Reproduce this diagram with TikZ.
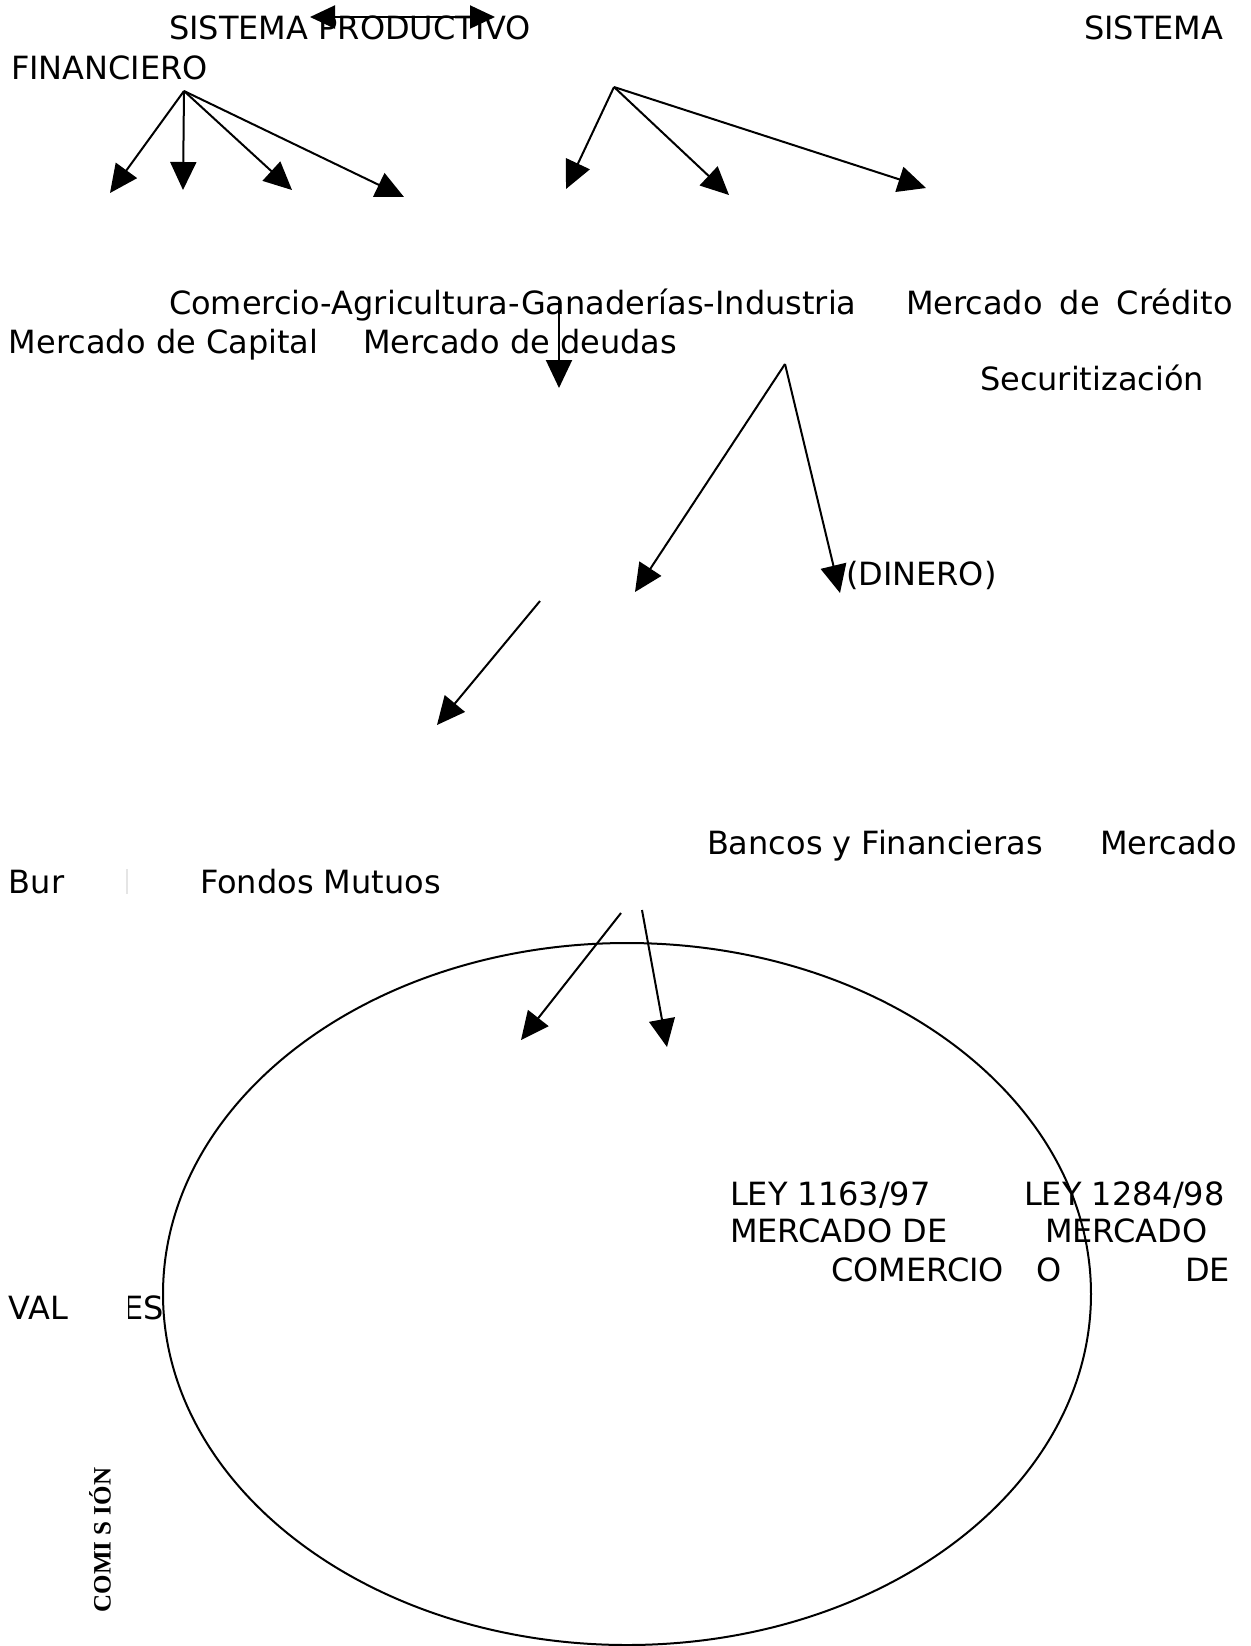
\documentclass[tikz,border=0pt]{standalone}
\usepackage{fontspec}
\setmainfont{DejaVu Sans}
\newfontfamily\comisionfont{Liberation Serif}
\usepackage{tikz}
\usetikzlibrary{arrows.meta}

\begin{document}
\begin{tikzpicture}[x=0.5pt, y=-0.5pt, line width=1pt,
	>={Triangle[length=14pt, width=13pt]},
	txt/.style={anchor=base west, inner sep=0pt, font=\fontsize{16}{19}\selectfont}]

	\useasboundingbox (0,0) rectangle (1250,1646);

	% texto
	\node[txt] (sprod) at (168,39) {SISTEMA PRODUCTIVO};
	\node[txt] (sfin) at (1083,39) {SISTEMA};
	\node[txt] (fin) at (10,79) {FINANCIERO};
	\node[txt] (cagi) at (168,314) {Comercio-Agricultura-Ganaderías-Industria};
	\node[txt] (mcred) at (905,314) {Mercado\hspace{8.5pt}de\hspace{8.5pt}Crédito};
	\node[txt] (mcap) at (8,353) {Mercado de Capital};
	\node[txt] (mdeu) at (362,353) {Mercado de deudas};
	\node[txt] (secu) at (979,390) {Securitización};
	\node[txt] (din) at (845,585) {(DINERO)};
	\node[txt] (banc) at (706,854) {Bancos y Financieras};
	\node[txt] (mbur) at (1099,854) {Mercado};
	\node[txt] (bur) at (8,893) {Bur};
	\node[txt] (fond) at (199,893) {Fondos Mutuos};
	\node[txt] (ley1) at (729,1205) {LEY 1163/97};
	\node[txt] (ley2) at (1023,1205) {LEY 1284/98};
	\node[txt] (mde) at (729,1242) {MERCADO DE};
	\node[txt] (mer) at (1044,1242) {MERCADO};
	\node[txt] (comer) at (830,1281) {COMERCIO};
	\node[txt] (cmo) at (1035,1281) {O};
	\node[txt] (cde) at (1184,1281) {DE};
	\node[txt] (val) at (8,1319) {VAL};
	\begin{scope}
		\clip (128,1280) rectangle (180,1330);
		\node[txt] (ves) at (122,1319) {ES};
	\end{scope}
	\node[rotate=90, inner sep=0pt, font=\comisionfont\bfseries\fontsize{12.5}{14}\selectfont] (comi) at (100,1540) {COMI S IÓN};

	\draw[gray!20, line width=0.6pt] (127,869) -- (127,894);

	% puntos de las flechas
	\coordinate (dl) at (310,17);
	\coordinate (dr) at (495,17);
	\coordinate (f1) at (184,91);
	\coordinate (f1a) at (110,193);
	\coordinate (f1b) at (183,190);
	\coordinate (f1c) at (292,190);
	\coordinate (f1d) at (404,197);
	\coordinate (f2) at (614,87);
	\coordinate (f2a) at (566,189);
	\coordinate (f2b) at (729,195);
	\coordinate (f2c) at (926,188);
	\coordinate (v1) at (559,301);
	\coordinate (v1e) at (559,388);
	\coordinate (f3) at (785,364);
	\coordinate (f3a) at (635,592);
	\coordinate (f3b) at (840,593);
	\coordinate (d1) at (540,601);
	\coordinate (d1e) at (437,725);
	\coordinate (b1) at (621,913);
	\coordinate (b1e) at (521,1040);
	\coordinate (b2) at (642,910);
	\coordinate (b2e) at (667,1047);

	% flechas
	\draw[{Triangle[length=12.5pt, width=11.5pt]}-{Triangle[length=12.5pt, width=11.5pt]}] (dl) -- (dr);
	\foreach \t in {f1a,f1b,f1c,f1d} \draw[->] (f1) -- (\t);
	\foreach \t in {f2a,f2b,f2c} \draw[->] (f2) -- (\t);
	\draw[->] (v1) -- (v1e);
	\draw[->] (f3) -- (f3a);
	\draw[->] (f3) -- (f3b);
	\draw[->] (d1) -- (d1e);
	\draw[->] (b1) -- (b1e);
	\draw[->] (b2) -- (b2e);

	% elipse
	\draw (627,1294) ellipse [x radius=464, y radius=351];

\end{tikzpicture}
\end{document}
